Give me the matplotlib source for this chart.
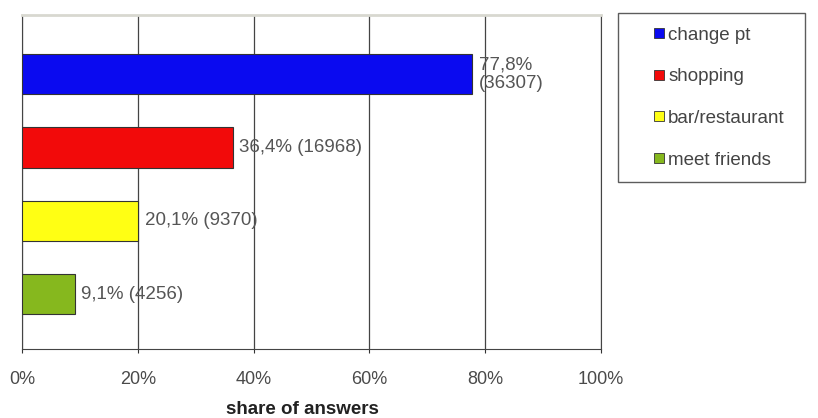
import matplotlib
matplotlib.use('Agg')
import matplotlib.pyplot as plt
from matplotlib.lines import Line2D

plt.rcParams['font.family'] = ['Liberation Sans', 'DejaVu Sans']

categories = ['change pt', 'shopping', 'bar/restaurant', 'meet friends']
shares = [77.8, 36.4, 20.1, 9.1]
counts = [36307, 16968, 9370, 4256]
labels = ['77,8%\n(36307)', '36,4% (16968)', '20,1% (9370)', '9,1% (4256)']
colors = ['#0a0af0', '#f20a0a', '#ffff14', '#86b81e']
xticks = [0, 20, 40, 60, 80, 100]
xticklabels = ['0%', '20%', '40%', '60%', '80%', '100%']

fig = plt.figure(figsize=(8.18, 4.18), dpi=100)
ax = fig.add_axes([22/818, 1-349/418, (601-22)/818, (349-15)/418])

# top category at the top
ypos = list(range(len(categories)))[::-1]
ax.barh(ypos, shares, height=0.55, color=colors, edgecolor='#333333', linewidth=0.8, zorder=3)

for y, v, t in zip(ypos, shares, labels):
    ax.text(v + 1.1, y, t, va='center', ha='left', fontsize=13.5, color='#555555',
            linespacing=1.1)

ax.set_xlim(0, 100)
ax.set_ylim(-0.75, 3.81)
ax.set_xticks(xticks)
ax.set_xticklabels(xticklabels, fontsize=13, color='#4a4a4a')
ax.set_yticks([])
ax.tick_params(axis='x', length=3, color='#333333', pad=13)
ax.grid(axis='x', color='#444444', linewidth=0.9, zorder=0)
for side in ['left', 'bottom', 'right']:
    ax.spines[side].set_color('#444444')
ax.spines['top'].set_color('#d8d8d0')
ax.spines['top'].set_linewidth(2)
ax.set_xlabel('share of answers', fontsize=13.5, fontweight='bold', color='#222222')
ax.xaxis.set_label_coords(0.484, -0.155)

handles = [Line2D([], [], marker='s', linestyle='none', markersize=7.5,
                  markerfacecolor=c, markeredgecolor='#333333', markeredgewidth=0.6)
           for c in colors]
fig.legend(handles, categories, loc='upper left',
           bbox_to_anchor=(618/818, 1-13/418, (805-618)/818, 0.0), mode='expand',
           fontsize=13.5, frameon=True, fancybox=False, edgecolor='#333333',
           handlelength=2.9, handletextpad=-0.95, labelcolor='#444444',
           labelspacing=1.31, borderpad=0.72, borderaxespad=0)

fig.savefig('out.png', dpi=100)
